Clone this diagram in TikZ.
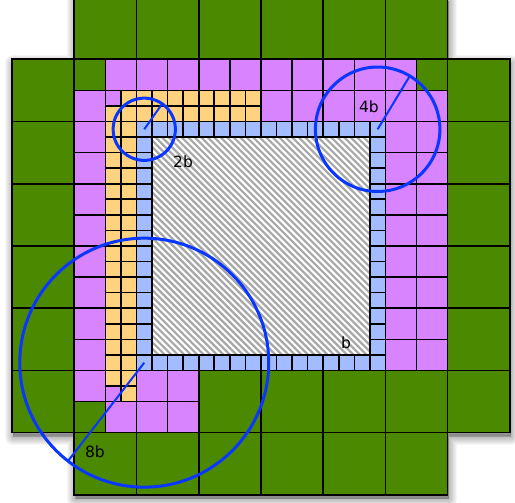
\documentclass[tikz,border=0pt]{standalone}
\usepackage{fontspec}
\setmainfont{DejaVu Sans}
\definecolor{cgreen}{HTML}{4B8A00}
\definecolor{cpink}{HTML}{D883FF}
\definecolor{cyellow}{HTML}{FFD280}
\definecolor{cblue}{HTML}{A3BBFF}
\definecolor{cring}{HTML}{0A37FF}
\definecolor{chatch}{HTML}{A8A8A8}
\begin{document}
\begin{tikzpicture}[x=15.56pt, y=-15.56pt,
  cell/.style={draw=black, line width=1.6pt},
  gcell/.style={cell, fill=cgreen},
  pcell/.style={cell, fill=cpink},
  ycell/.style={cell, fill=cyellow},
  bcell/.style={cell, fill=cblue},
  ring/.style={draw=cring, line width=3pt},
  rad/.style={draw=cring, line width=2pt},
  lbl/.style={font=\fontsize{15.5}{18}\selectfont, text=black, inner sep=0pt}]
\useasboundingbox (-0.771,0.193) rectangle (32.326,32.455);

% shadow
\begin{scope}[shift={(0.08,0.25)}]
  \fill[black, opacity=0.3] (4,0) -- (28,0) -- (28,4) -- (32,4) -- (32,28) -- (28,28) -- (28,32) -- (4,32) -- (4,28) -- (0,28) -- (0,4) -- (4,4) -- cycle;
  \foreach \w in {2,4,...,16}
    \draw[black, opacity=0.035, line width=\w pt, line join=round] (4,0) -- (28,0) -- (28,4) -- (32,4) -- (32,28) -- (28,28) -- (28,32) -- (4,32) -- (4,28) -- (0,28) -- (0,4) -- (4,4) -- cycle;
\end{scope}

% green cells
\foreach \x in {4,8,...,24} {
  \draw[gcell] (\x,0) rectangle ++(4,4);
  \draw[gcell] (\x,28) rectangle ++(4,4);
}
\foreach \y in {4,8,...,24} {
  \draw[gcell] (0,\y) rectangle ++(4,4);
  \draw[gcell] (28,\y) rectangle ++(4,4);
}
\foreach \x in {12,16,20,24} \draw[gcell] (\x,24) rectangle ++(4,4);
\draw[gcell] (4,4) rectangle ++(2,2);
\draw[gcell] (26,4) rectangle ++(2,2);
\draw[gcell] (4,26) rectangle ++(2,2);

% pink cells
\foreach \x in {6,8,...,24} \draw[pcell] (\x,4) rectangle ++(2,2);
\foreach \x in {16,18,...,26} \draw[pcell] (\x,6) rectangle ++(2,2);
\foreach \y in {6,8,...,24} \draw[pcell] (4,\y) rectangle ++(2,2);
\foreach \y in {8,10,...,22} {
  \draw[pcell] (24,\y) rectangle ++(2,2);
  \draw[pcell] (26,\y) rectangle ++(2,2);
}
\foreach \x in {8,10} \draw[pcell] (\x,24) rectangle ++(2,2);
\foreach \x in {6,8,10} \draw[pcell] (\x,26) rectangle ++(2,2);
\draw[pcell] (6,6) rectangle ++(1,1);
\draw[pcell] (6,25) rectangle ++(1,1);

% yellow cells
\foreach \x in {7,...,15} \draw[ycell] (\x,6) rectangle ++(1,1);
\foreach \x in {6,...,15} \draw[ycell] (\x,7) rectangle ++(1,1);
\foreach \y in {8,...,24} \draw[ycell] (6,\y) rectangle ++(1,1);
\foreach \y in {8,...,25} \draw[ycell] (7,\y) rectangle ++(1,1);

% hatched interior
\begin{scope}
  \clip (9,9) rectangle (23,23);
  \fill[white] (9,9) rectangle (23,23);
  \foreach \i in {0,...,68}
    \draw[chatch, line width=2.2pt] ({-5+\i*0.418},9) -- ++(14,14);
\end{scope}

% blue ring of cells
\foreach \x in {8,...,23} {
  \draw[bcell] (\x,8) rectangle ++(1,1);
  \draw[bcell] (\x,23) rectangle ++(1,1);
}
\foreach \y in {9,...,22} {
  \draw[bcell] (8,\y) rectangle ++(1,1);
  \draw[bcell] (23,\y) rectangle ++(1,1);
}

% circles and radii
\coordinate (c2) at (8.5,8.5);
\coordinate (c4) at (23.5,8.5);
\coordinate (c8) at (8.5,23.5);
\coordinate (e2) at (9.64,6.88);
\coordinate (e4) at (25.55,5.1);
\coordinate (e8) at (3.6,29.82);
\draw[ring] (c2) circle [radius=31.12pt];
\draw[ring] (c4) circle [radius=62.24pt];
\draw[ring] (c8) circle [radius=124.48pt];
\draw[rad] (c2) -- (e2);
\draw[rad] (c4) -- (e4);
\draw[rad] (c8) -- (e8);

% labels
\node[lbl] (l2) at (10.99,10.6) {2b};
\node[lbl] (l4) at (22.94,7.07) {4b};
\node[lbl] (l8) at (5.33,29.24) {8b};
\node[lbl] (l1) at (21.47,22.24) {b};
\end{tikzpicture}
\end{document}
